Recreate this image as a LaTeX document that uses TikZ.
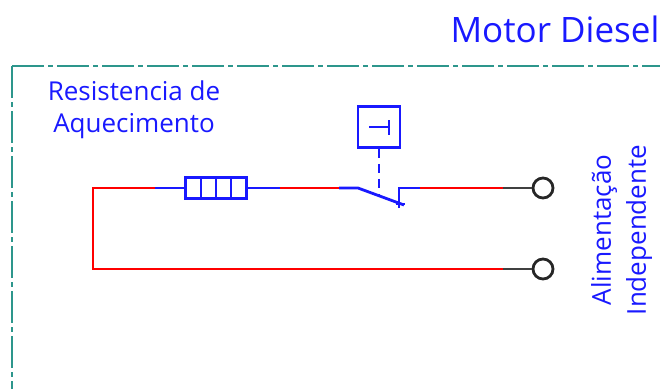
\documentclass[tikz,border=0pt]{standalone}
\usepackage{fontspec}
\setmainfont{Open Sans}
\usepackage{xcolor}
\usetikzlibrary{shapes,arrows}
\definecolor{framegreen}{RGB}{45,150,140}
\definecolor{wireblue}{RGB}{25,25,255}
\tikzstyle{label} = [text=wireblue, inner sep=0pt, align=center, font=\fontsize{26}{26}\selectfont]
\tikzstyle{symbol} = [rectangle, draw=wireblue, line width=2.8pt, inner sep=0pt, minimum width=42pt, minimum height=41pt]
\tikzstyle{heater} = [rectangle, draw=wireblue, line width=2.8pt, inner sep=0pt, minimum width=61pt, minimum height=21pt]
\tikzstyle{terminal} = [circle, draw=black!85, line width=2.8pt, fill=white, inner sep=0pt, minimum size=20pt]
\tikzstyle{hot} = [draw=red, line width=2.8pt]
\tikzstyle{cold} = [draw=wireblue, line width=2.8pt]
\tikzstyle{lead} = [draw=black!75, line width=2.8pt]
\tikzstyle{border} = [draw=framegreen, line width=2.6pt, dash pattern=on 32pt off 4pt on 5pt off 4pt]

\begin{document}
\begin{tikzpicture}[x=1pt,y=-1pt]
\useasboundingbox (0,0) rectangle (660,389);

\coordinate (f0) at (12,66);
\coordinate (f1) at (12,389);
\coordinate (f2) at (660,66);
\path [border] (f0) -- (f1);
\path [border] (f0) -- (f2);

\node [label, font=\fontsize{35}{35}\selectfont] (title) at (555,29) {Motor Diesel};
\node [label] (res1) at (134,91) {Resistencia de};
\node [label] (res2) at (134,126) {Aquecimento};
\node [label, rotate=90] (ali) at (604,230) {Alimentação};
\node [label, rotate=90] (ind) at (639,230) {Independente};

\node [heater] (r1) at (216,188) {};
\draw [cold] (r1.north) ++(-15,0) -- ++(0,21);
\draw [cold] (r1.north) -- (r1.south);
\draw [cold] (r1.north) ++(15,0) -- ++(0,21);

\node [symbol] (btn) at (379,127) {};
\draw [cold] (369,127) -- (389,127);
\draw [cold] (389,120) -- (389,135);

\node [terminal] (c1) at (543,188) {};
\node [terminal] (c2) at (543,269) {};

\coordinate (a1) at (93,188);
\coordinate (a2) at (93,269);
\coordinate (a3) at (155,188);
\coordinate (a4) at (280,188);
\coordinate (a5) at (339,188);
\coordinate (s1) at (358,188);
\coordinate (s2) at (404,205);
\coordinate (s3) at (399,188);
\coordinate (s4) at (399,208);
\coordinate (s5) at (420,188);
\coordinate (s6) at (379,197);
\coordinate (a6) at (503,188);
\coordinate (a7) at (503,269);

\path [hot] (a3) -- (a1) -- (a2) -- (a7);
\path [cold] (a3) -- (r1);
\path [cold] (r1) -- (a4);
\path [hot] (a4) -- (a5);
\path [cold] (a5) -- (s1) -- (s2);
\path [cold] (s4) -- (s3) -- (s5);
\path [cold] (396,204) -- (405,204);
\path [cold, dash pattern=on 9pt off 6pt] (btn) -- (s6);
\path [hot] (s5) -- (a6);
\path [lead] (a6) -- (c1);
\path [lead] (a7) -- (c2);
\end{tikzpicture}
\end{document}
